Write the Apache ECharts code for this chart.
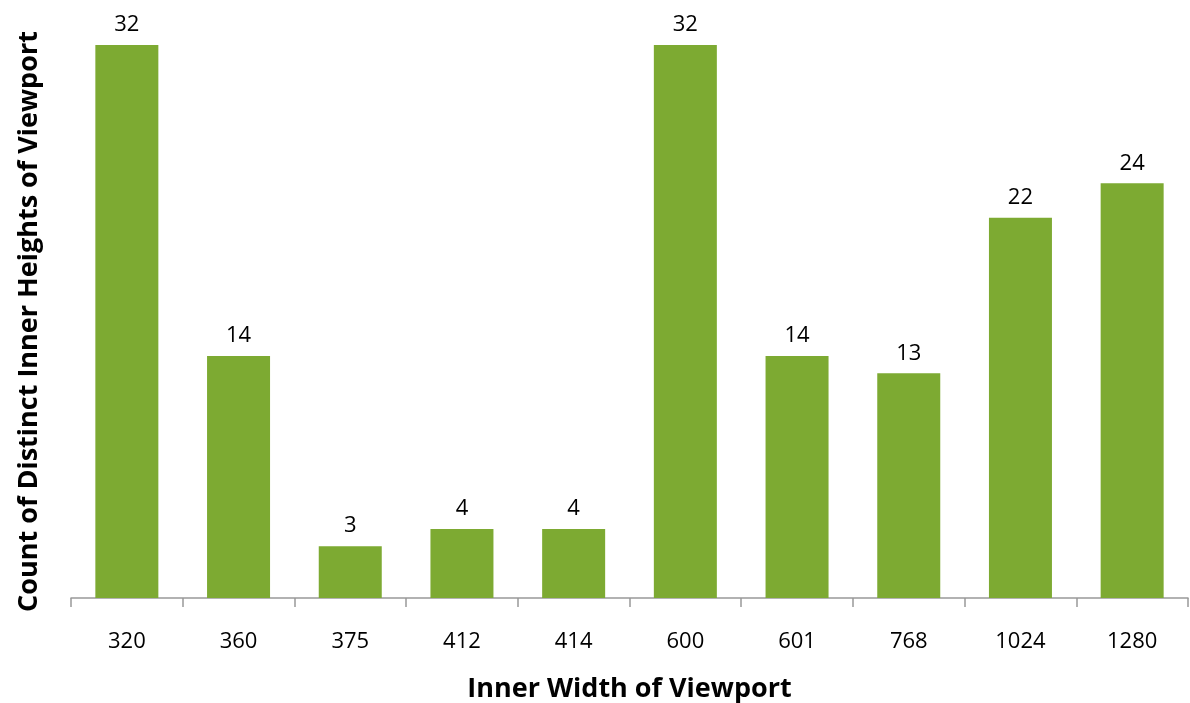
<!DOCTYPE html>
<html>
<head>
<meta charset="utf-8">
<script src="https://cdn.jsdelivr.net/npm/echarts@6/dist/echarts.min.js"></script>
<style>
  html, body { margin: 0; padding: 0; background: #fff; }
  #chart { width: 1190px; height: 703px; }
</style>
</head>
<body>
<div id="chart"></div>
<script>
// inner widths (x categories) and counts of distinct inner heights
const widths = ['320', '360', '375', '412', '414', '600', '601', '768', '1024', '1280']
const counts = [32, 14, 3, 4, 4, 32, 14, 13, 22, 24]

const barColor = '#7DAA32'
const font = 'Open Sans'

const chart = echarts.init(document.getElementById('chart'))
chart.setOption({
  animation: false,
  grid: { left: 71, right: 2, top: 45, bottom: 105, outerBoundsMode: 'none' },
  xAxis: {
    type: 'category',
    data: widths,
    name: 'Inner Width of Viewport',
    nameLocation: 'middle',
    nameGap: 78,
    nameTextStyle: { fontFamily: font, fontWeight: 'bold', fontSize: 27, color: '#000' },
    axisLine: { lineStyle: { color: '#999', width: 1.5 } },
    axisTick: { show: true, length: 9, lineStyle: { color: '#999', width: 1.5 } },
    axisLabel: { fontFamily: font, fontSize: 22, color: '#000', margin: 33 }
  },
  yAxis: {
    type: 'value',
    min: 0,
    max: 32,
    name: 'Count of Distinct Inner Heights of Viewport',
    nameLocation: 'middle',
    nameRotate: 90,
    nameGap: 28,
    nameTextStyle: { fontFamily: font, fontWeight: 'bold', fontSize: 27, color: '#000' },
    axisLine: { show: false },
    axisTick: { show: false },
    axisLabel: { show: false },
    splitLine: { show: false }
  },
  series: [{
    type: 'bar',
    data: counts,
    barWidth: 63,
    itemStyle: { color: barColor },
    label: {
      show: true,
      position: 'top',
      distance: 9,
      fontFamily: font,
      fontSize: 22,
      color: '#000'
    }
  }]
})
</script>
</body>
</html>
